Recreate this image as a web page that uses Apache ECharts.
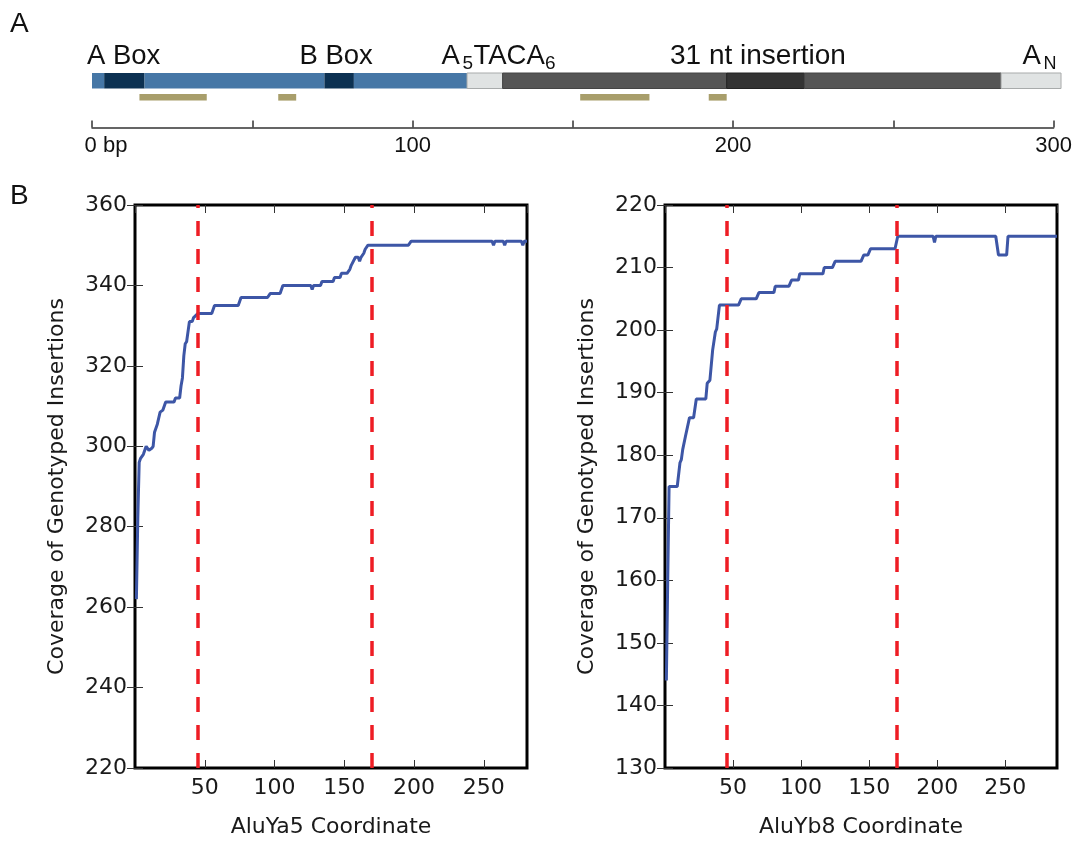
<!DOCTYPE html>
<html>
<head>
<meta charset="utf-8">
<script src="https://cdn.jsdelivr.net/npm/echarts@6/dist/echarts.min.js"></script>
<style>
html,body{margin:0;padding:0;background:#fff;}
#chart{width:1075px;height:843px;}
</style>
</head>
<body>
<div id="chart"></div>
<script>
// ---- Panel A: Alu element schematic (positions in bp) ----
const segStart = [0, 3.8, 16.4, 72.5, 81.7, 117, 128.1, 198, 222.2, 283.6];
const segEnd   = [3.8, 16.4, 72.5, 81.7, 117, 128.1, 198, 222.2, 283.6, 302.3];
const segKind  = ['alu', 'box', 'alu', 'box', 'alu', 'polyA', 'insert', 'insertCore', 'insert', 'polyA'];
const tanStart = [14.8, 58.1, 152.3, 192.4];
const tanEnd   = [35.8, 63.7, 173.9, 198];
const bpTicks  = [0, 100, 200, 300];

// ---- Panel B left: AluYa5 ----
const ya5X = [1,2,3,4,6,8,10,11,12,13,14,16,18,20,22,28,29,32,33,34,35,36,37,39,41,42,45,55,57,74,76,95,97,104,106,126,127,128,133,134,142,143,147,148,152,154,155,158,160,161,162,164,165,167,196,198,256,257,258,264,265,266,277,278,279,281];
const ya5Y = [262,282,296,297,298,300,299,298.8,299.5,300,303.5,305.5,308.5,309,311,311,312,312,315,317,322.5,325.5,326,331,331,332,333,333,335,335,337,337,338,338,340,340,339,340,340,341,341,342,342,343,343,344,345,347,347,346,347,348,349,350,350,351,351,350,351,351,350,351,351,350,351,351];

// ---- Panel B right: AluYb8 ----
const yb8X = [1,2,3,9,11,12,13,14,15,16,18,21,23,30,31,33,35,37,38,40,54,56,67,69,80,81,91,93,98,99,116,117,123,125,144,146,149,151,169,171,197,198,199,243,245,251,252,288];
const yb8Y = [144,160,175,175,178.8,179.3,180.9,181.1,183,183.3,186,186,189,189,191.5,192,196.8,199.7,200.2,204,204,205,205,206,206,207,207,208,208,209,209,210,210,211,211,212,212,213,213,215,215,214,215,215,212,212,215,215];

const regionLines = [45, 170];

const kindColor = {
  alu: '#4677A6', box: '#0C3152', polyA: '#E0E3E3',
  insert: '#555555', insertCore: '#333333'
};
const kindStroke = {
  alu: null, box: null, polyA: '#A8ABAB', insert: '#444', insertCore: '#222'
};

const segData = segStart.map((s, i) => [s, segEnd[i], i]);
const tanData = tanStart.map((s, i) => [s, tanEnd[i]]);
const ya5Data = ya5X.map((x, i) => [x, ya5Y[i]]);
const yb8Data = yb8X.map((x, i) => [x, yb8Y[i]]);

const SANS = 'Liberation Sans';
const DV = 'DejaVu Sans';
const BLUE = '#3D56A6';
const RED = '#EE1D24';

function plotAxesX(grid, max, name) {
  return [
    {
      gridIndex: grid, type: 'value', min: 0, max: max, interval: 50, position: 'bottom',
      axisLine: {show: false},
      axisTick: {inside: true, length: 8, lineStyle: {color: '#333', width: 1}},
      splitLine: {show: false},
      axisLabel: {
        margin: 9, fontSize: 22, fontFamily: DV, color: '#1a1a1a',
        showMinLabel: false, showMaxLabel: false,
        formatter: v => (v > 0 && v % 50 === 0) ? String(v) : ''
      },
      name: name, nameLocation: 'middle', nameGap: 48,
      nameTextStyle: {fontSize: 22, fontFamily: DV, color: '#1a1a1a'}
    },
    {
      gridIndex: grid, type: 'value', min: 0, max: max, interval: 50, position: 'top',
      axisLine: {show: false},
      axisTick: {inside: true, length: 8, lineStyle: {color: '#333', width: 1}},
      splitLine: {show: false}, axisLabel: {show: false}
    }
  ];
}
function plotAxesY(grid, min, max, step) {
  return [
    {
      gridIndex: grid, type: 'value', min: min, max: max, interval: step, position: 'left',
      axisLine: {show: false},
      axisTick: {inside: true, length: 8, lineStyle: {color: '#333', width: 1}},
      splitLine: {show: false},
      axisLabel: {margin: 8, fontSize: 22, fontFamily: DV, color: '#1a1a1a'},
      name: 'Coverage of Genotyped Insertions', nameLocation: 'middle', nameGap: 67,
      nameTextStyle: {fontSize: 22, fontFamily: DV, color: '#1a1a1a'}
    },
    {
      gridIndex: grid, type: 'value', min: min, max: max, interval: step, position: 'right',
      axisLine: {show: false},
      axisTick: {inside: true, length: 8, lineStyle: {color: '#333', width: 1}},
      splitLine: {show: false}, axisLabel: {show: false}
    }
  ];
}

const markLines = {
  silent: true, symbol: 'none', animation: false,
  label: {show: false},
  lineStyle: {color: RED, width: 3.5, type: [15, 13], opacity: 1},
  data: regionLines.map(v => ({xAxis: v}))
};

function txt(x, y, s, size) {
  return {type: 'text', x: x, y: y, style: {text: s, fontSize: size, fontFamily: SANS, fill: '#111', verticalAlign: 'middle'}};
}

const option = {
  animation: false,
  backgroundColor: '#fff',
  grid: [
    {left: 92, width: 962.4, top: 60, height: 67.4},
    {left: 135, top: 205, width: 392, height: 568, show: true, borderColor: '#000', borderWidth: 3, backgroundColor: 'transparent'},
    {left: 665, top: 205, width: 392, height: 568, show: true, borderColor: '#000', borderWidth: 3, backgroundColor: 'transparent'}
  ],
  xAxis: [
    {
      gridIndex: 0, type: 'value', min: 0, max: 300, interval: 50,
      axisLine: {lineStyle: {color: '#333', width: 1.5}},
      axisTick: {inside: true, length: 7, lineStyle: {color: '#333', width: 1.5}},
      splitLine: {show: false},
      axisLabel: {
        margin: 8, fontSize: 22, fontFamily: SANS, color: '#111',
        formatter: v => v === 0 ? '{z|0 bp}' : (bpTicks.indexOf(v) >= 0 ? String(v) : ''),
        rich: {z: {fontSize: 22, fontFamily: SANS, color: '#111', padding: [0, 0, 0, 28]}}
      }
    },
    ...plotAxesX(1, 281, 'AluYa5 Coordinate'),
    ...plotAxesX(2, 288, 'AluYb8 Coordinate')
  ],
  yAxis: [
    {gridIndex: 0, type: 'value', min: 0, max: 1, show: false},
    ...plotAxesY(1, 220, 360, 20),
    ...plotAxesY(2, 130, 220, 10)
  ],
  series: [
    {
      type: 'custom', xAxisIndex: 0, yAxisIndex: 0, data: segData, clip: false,
      renderItem: function (params, api) {
        const a = api.coord([api.value(0), 0]);
        const b = api.coord([api.value(1), 0]);
        const base = params.coordSys.y + params.coordSys.height;
        const kind = segKind[api.value(2)];
        const st = {fill: kindColor[kind]};
        if (kindStroke[kind]) { st.stroke = kindStroke[kind]; st.lineWidth = 1; }
        return {type: 'rect', shape: {x: a[0], y: base - 54.4, width: b[0] - a[0], height: 15.5}, style: st};
      }
    },
    {
      type: 'custom', xAxisIndex: 0, yAxisIndex: 0, data: tanData, clip: false,
      renderItem: function (params, api) {
        const a = api.coord([api.value(0), 0]);
        const b = api.coord([api.value(1), 0]);
        const base = params.coordSys.y + params.coordSys.height;
        return {type: 'rect', shape: {x: a[0], y: base - 33.4, width: b[0] - a[0], height: 6.6}, style: {fill: '#A89E6B'}};
      }
    },
    {
      type: 'line', xAxisIndex: 1, yAxisIndex: 1, data: ya5Data,
      showSymbol: false, symbol: 'none',
      lineStyle: {color: BLUE, width: 3}, itemStyle: {color: BLUE},
      markLine: markLines, z: 3
    },
    {
      type: 'line', xAxisIndex: 3, yAxisIndex: 3, data: yb8Data,
      showSymbol: false, symbol: 'none',
      lineStyle: {color: BLUE, width: 3}, itemStyle: {color: BLUE},
      markLine: markLines, z: 3
    }
  ],
  graphic: [
    txt(10, 24, 'A', 28),
    txt(10, 196, 'B', 28),
    txt(87, 56, 'A Box', 27.5),
    txt(299.5, 56, 'B Box', 27.5),
    txt(441.5, 56, 'A', 27.5),
    txt(462.5, 64, '5', 19),
    txt(473.5, 56, 'TACA', 27.5),
    txt(545, 64, '6', 19),
    txt(670, 56, '31 nt insertion', 28),
    txt(1022.5, 56, 'A', 27.5),
    txt(1043.5, 64, 'N', 18)
  ]
};

const chart = echarts.init(document.getElementById('chart'), null, {renderer: 'canvas'});
chart.setOption(option);
</script>
</body>
</html>
